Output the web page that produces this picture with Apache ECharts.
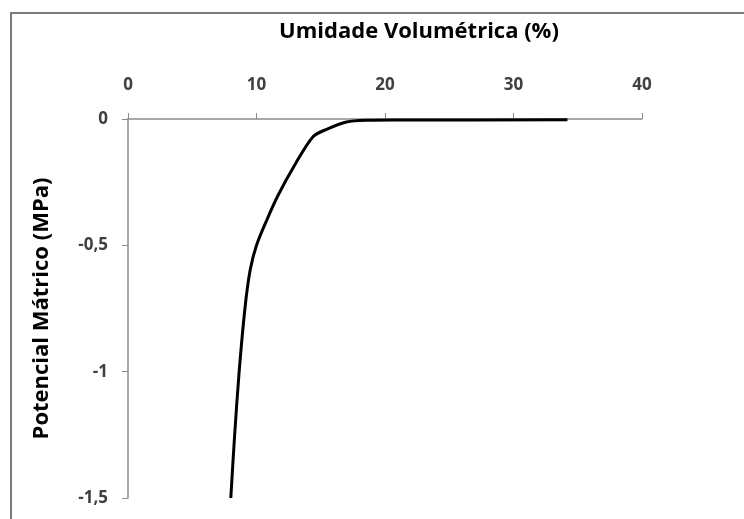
<!DOCTYPE html>
<html><head><meta charset="utf-8">
<script src="https://cdn.jsdelivr.net/npm/echarts@6/dist/echarts.min.js"></script>
<style>html,body{margin:0;padding:0;background:#fff}#c{width:744px;height:519px}</style>
</head><body><div id="c"></div>
<script>
const xTitle = 'Umidade Volumétrica (%)';
const yTitle = 'Potencial Mátrico (MPa)';
const moisture = [8.0, 8.3, 8.65, 9.1, 9.5, 10.0, 10.8, 11.7, 13.0, 14.4, 15.5, 17.0, 18.5, 21.0, 34.2];
const potential = [-1.5, -1.25, -1.0, -0.75, -0.6, -0.5, -0.4, -0.3, -0.18, -0.07, -0.04, -0.012, -0.005, -0.004, -0.003];

const chart = echarts.init(document.getElementById('c'));
const font = "'Open Sans', 'DejaVu Sans', sans-serif";
chart.setOption({
  animation: false,
  backgroundColor: '#fff',
  graphic: [{
    type: 'rect', shape: {x: 11, y: 13, width: 900, height: 700},
    style: {fill: 'none', stroke: '#7a7a7a', lineWidth: 2}
  }],
  title: {
    text: xTitle, left: 414, top: 16, textAlign: 'center',
    textStyle: {fontFamily: font, fontSize: 22, fontWeight: 'bold', color: '#000'}
  },
  grid: {left: 128, top: 119, width: 514, height: 379},
  xAxis: {
    type: 'value', position: 'top', min: 0, max: 40, interval: 10,
    axisLine: {show: true, lineStyle: {color: '#8c8c8c', width: 1.5}},
    axisTick: {show: true, inside: false, length: 6, lineStyle: {color: '#8c8c8c'}},
    splitLine: {show: false},
    axisLabel: {margin: 25, fontFamily: font, fontSize: 17, fontWeight: 'bold', color: '#404040'}
  },
  yAxis: {
    type: 'value', min: -1.5, max: 0, interval: 0.5,
    axisLine: {show: true, onZero: false, lineStyle: {color: '#8c8c8c', width: 1.5}},
    axisTick: {show: true, length: 6, lineStyle: {color: '#8c8c8c'}},
    splitLine: {show: false},
    name: yTitle, nameLocation: 'middle', nameGap: 75, nameRotate: 90,
    nameTextStyle: {fontFamily: font, fontSize: 22, fontWeight: 'bold', color: '#000'},
    axisLabel: {margin: 20, fontFamily: font, fontSize: 17, fontWeight: 'bold', color: '#404040',
      formatter: v => String(v).replace('.', ',')}
  },
  series: [{
    type: 'line', data: moisture.map((x, i) => [x, potential[i]]),
    smooth: 0.3, showSymbol: false,
    lineStyle: {color: '#000', width: 3}
  }]
});
</script></body></html>
